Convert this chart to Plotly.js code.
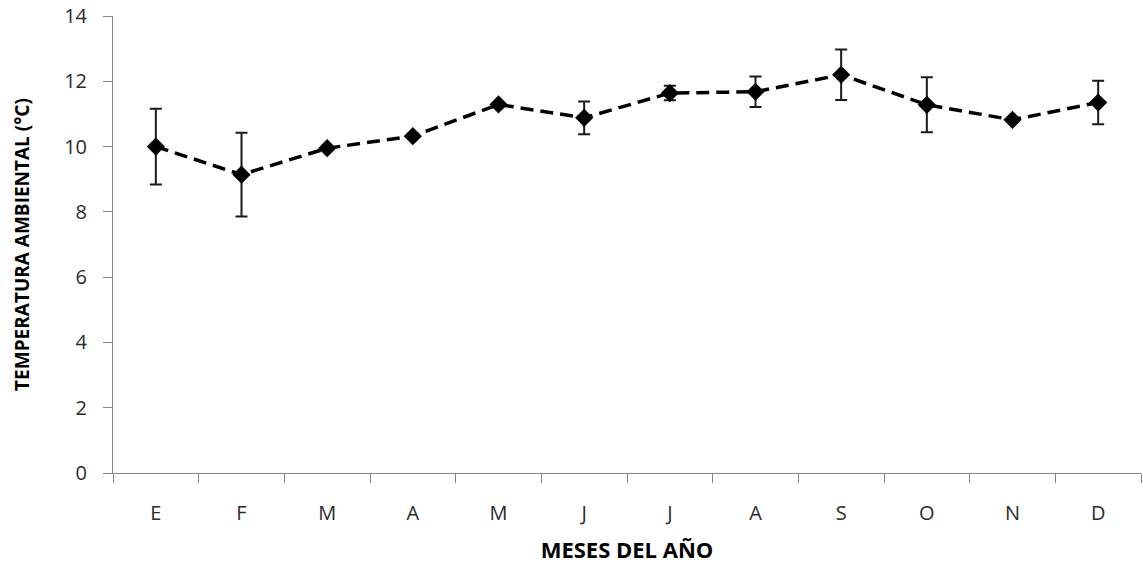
<!DOCTYPE html>
<html>
<head>
<meta charset="utf-8">
<script src="https://cdn.plot.ly/plotly-3.0.1.min.js"></script>
<style>html,body{margin:0;padding:0;background:#fff;}#chart{width:1143px;height:564px;}</style>
</head>
<body>
<div id="chart"></div>
<script>
const months = ["E","F","M","A","M","J","J","A","S","O","N","D"];
const temperature = [10.0, 9.14, 9.95, 10.32, 11.29, 10.88, 11.64, 11.68, 12.2, 11.28, 10.82, 11.35];
const errorValues = [1.16, 1.28, 0, 0, 0, 0.5, 0.22, 0.47, 0.77, 0.84, 0, 0.67];
const yTicks = [0, 2, 4, 6, 8, 10, 12, 14];

const xIdx = months.map((m, i) => i);

const trace = {
  x: xIdx,
  y: temperature,
  type: "scatter",
  mode: "lines+markers",
  line: {color: "#000", width: 3.5, dash: "13px,7px"},
  marker: {symbol: "diamond", size: 14, color: "#000"},
  error_y: {type: "data", array: errorValues, visible: true, color: "#1a1a1a", thickness: 2, width: 6},
  hoverinfo: "skip",
  showlegend: false
};

const layout = {
  width: 1143,
  height: 564,
  margin: {l: 113, r: 2, t: 16, b: 91},
  paper_bgcolor: "#fff",
  plot_bgcolor: "#fff",
  showlegend: false,
  font: {family: "Open Sans, sans-serif", color: "#333"},
  xaxis: {
    range: [-0.5, 11.5],
    tickmode: "array",
    tickvals: xIdx,
    ticktext: months,
    ticks: "outside",
    ticklen: 0,
    ticklabelstandoff: 22,
    tickfont: {size: 20, color: "#2b2b2b", family: "Open Sans, sans-serif"},
    showgrid: false,
    zeroline: false,
    showline: true,
    linecolor: "#868686",
    linewidth: 1,
    minor: {tick0: -0.5, dtick: 1, ticks: "outside", ticklen: 9, tickcolor: "#868686", tickwidth: 1, showgrid: false},
    title: {text: "MESES DEL AÑO", font: {size: 22, color: "#000", family: "Open Sans, sans-serif", weight: "bold"}, standoff: 18},
    fixedrange: true
  },
  yaxis: {
    range: [0, 14],
    tickmode: "array",
    tickvals: yTicks,
    ticks: "outside",
    ticklen: 9,
    ticklabelstandoff: 12,
    tickcolor: "#868686",
    tickfont: {size: 20, color: "#2b2b2b", family: "Open Sans, sans-serif"},
    showgrid: false,
    zeroline: false,
    showline: true,
    linecolor: "#868686",
    linewidth: 1,
    title: {text: "TEMPERATURA AMBIENTAL (°C)", font: {size: 19, color: "#000", family: "Liberation Sans Narrow, Open Sans, sans-serif", weight: "bold"}, standoff: 29},
    fixedrange: true
  }
};

Plotly.newPlot("chart", [trace], layout, {staticPlot: true, displayModeBar: false});
</script>
</body>
</html>
